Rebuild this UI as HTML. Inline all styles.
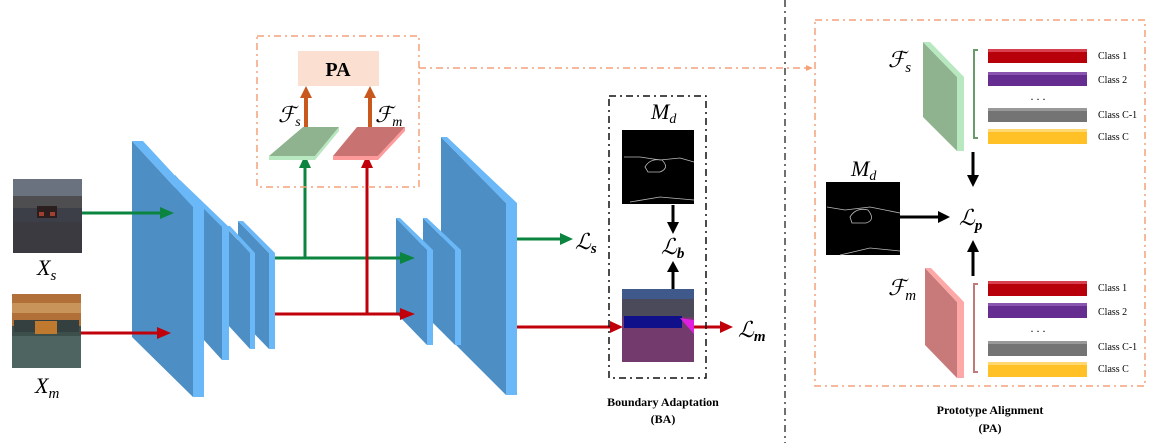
<!DOCTYPE html>
<html><head><meta charset="utf-8"><style>
html,body{margin:0;padding:0;background:#fff;}
svg{display:block;}
text{font-family:"Liberation Serif","DejaVu Serif",serif;}
.m{font-style:italic;font-size:22px;}
.cls{font-size:10px;}
</style></head><body>
<svg width="1160" height="443" viewBox="0 0 1160 443" xmlns="http://www.w3.org/2000/svg">
<defs>
<marker id="ag" markerWidth="8" markerHeight="8" refX="6" refY="4" orient="auto" markerUnits="userSpaceOnUse"><path d="M0,0 L14,4 L0,8z" fill="#0a843e" transform="scale(0.6,1)"/></marker>
</defs>

<!-- input images -->
<g>
<rect x="13" y="179" width="69" height="74" fill="#3c3e48"/>
<rect x="13" y="179" width="69" height="22" fill="#6a7280"/>
<rect x="13" y="196" width="69" height="12" fill="#4e4e50"/>
<rect x="37" y="206" width="20" height="12" fill="#2a1e1e"/>
<rect x="39" y="212" width="5" height="4" fill="#a04030"/>
<rect x="50" y="212" width="5" height="4" fill="#a04030"/>
<rect x="13" y="222" width="69" height="31" fill="#3a3a40"/>
</g>
<text class="m" x="37" y="275">X<tspan font-size="15" dy="5">s</tspan></text>
<g>
<rect x="12" y="294" width="69" height="74" fill="#3d4f4a"/>
<rect x="12" y="294" width="69" height="32" fill="#b07038"/>
<rect x="12" y="303" width="69" height="10" fill="#c8945a"/>
<rect x="14" y="320" width="65" height="12" fill="#344040"/>
<rect x="35" y="321" width="22" height="13" fill="#c07a30"/>
<rect x="12" y="336" width="69" height="32" fill="#4e6460"/>
</g>
<text class="m" x="35" y="393">X<tspan font-size="15" dy="5">m</tspan></text>

<!-- encoder layers (back to front) -->
<g>
<polygon points="238,221 269,253 269,349 238,317" fill="#4d8fc4"/>
<polygon points="238,221 243,221 275,253 269,253" fill="#6ab8f8"/>
<rect x="269" y="253" width="6" height="96" fill="#6ab8f8"/>
<polygon points="205,205 250,253 250,349 205,300" fill="#4d8fc4"/>
<polygon points="225,226 230,226 255,253 250,253" fill="#6ab8f8"/>
<rect x="250" y="253" width="5" height="96" fill="#6ab8f8"/>
<polygon points="175,175 222,227 222,360 175,308" fill="#4d8fc4"/>
<polygon points="175,180 180,180 229,227 222,227" fill="#6ab8f8"/>
<rect x="222" y="227" width="7" height="133" fill="#6ab8f8"/>
<polygon points="132,141 193,207 193,397 132,337" fill="#4d8fc4"/>
<polygon points="132,141 143,141 204,207 193,207" fill="#6ab8f8"/>
<rect x="193" y="207" width="11" height="190" fill="#6ab8f8"/>
</g>
<!-- decoder layers -->
<g>
<polygon points="441,137 506,203 506,395 441,330" fill="#4d8fc4"/>
<polygon points="441,137 447,137 517,203 506,203" fill="#6ab8f8"/>
<rect x="506" y="203" width="11" height="192" fill="#6ab8f8"/>
<polygon points="423,218 455,250 455,345 423,313" fill="#4d8fc4"/>
<polygon points="423,218 427,218 461,250 455,250" fill="#6ab8f8"/>
<rect x="455" y="250" width="6" height="95" fill="#6ab8f8"/>
<polygon points="396,218 427,250 427,345 396,313" fill="#4d8fc4"/>
<polygon points="396,218 400,218 433,250 427,250" fill="#6ab8f8"/>
<rect x="427" y="250" width="6" height="95" fill="#6ab8f8"/>
</g>

<!-- arrows -->
<g stroke-width="3" fill="none">
<line x1="82" y1="213" x2="160" y2="213" stroke="#0a843e"/>
<line x1="81" y1="333" x2="157" y2="333" stroke="#c0000a"/>
<line x1="275" y1="258" x2="400" y2="258" stroke="#0a843e"/>
<line x1="305" y1="258" x2="305" y2="168" stroke="#0a843e"/>
<line x1="275" y1="314" x2="400" y2="314" stroke="#c0000a"/>
<line x1="367" y1="314" x2="367" y2="168" stroke="#c0000a"/>
<line x1="517" y1="239" x2="560" y2="239" stroke="#0a843e"/>
<line x1="517" y1="327" x2="610" y2="327" stroke="#c0000a"/>
<line x1="694" y1="327" x2="720" y2="327" stroke="#c0000a"/>
<line x1="306" y1="138" x2="306" y2="96" stroke="#c8581e" stroke-width="4"/>
<line x1="370" y1="138" x2="370" y2="96" stroke="#c8581e" stroke-width="4"/>
</g>
<g>
<polygon points="160,207 174,213 160,219" fill="#0a843e"/>
<polygon points="157,327 171,333 157,339" fill="#c0000a"/>
<polygon points="400,252 415,258 400,264" fill="#0a843e"/>
<polygon points="299,168 305,155 311,168" fill="#0a843e"/>
<polygon points="400,308 415,314 400,320" fill="#c0000a"/>
<polygon points="361,168 367,155 373,168" fill="#c0000a"/>
<polygon points="560,233 573,239 560,245" fill="#0a843e"/>
<polygon points="610,321 623,327 610,333" fill="#c0000a"/>
<polygon points="720,321 733,327 720,333" fill="#c0000a"/>
<polygon points="300,98 306,86 312,98" fill="#c8581e"/>
<polygon points="364,98 370,86 376,98" fill="#c8581e"/>
</g>

<!-- PA small box -->
<rect x="257" y="36" width="162" height="151" fill="none" stroke="#f4a27a" stroke-width="1.5" stroke-dasharray="7,4,2,4"/>
<rect x="298" y="51" width="81" height="35" fill="#fbe0d2"/>
<text x="338" y="76" font-size="20" font-weight="bold" text-anchor="middle">PA</text>
<g>
<polygon points="269,156 303,127 339,127 315,156" fill="#8fb38f"/>
<polygon points="269,156 315,156 339,127 339,131 315,160 269,160" fill="#b8e8c0"/>
<polygon points="333,156 357,127 405,127 378,156" fill="#c87272"/>
<polygon points="333,156 378,156 405,127 405,131 378,160 333,160" fill="#ff9a9a"/>
</g>
<text class="m" x="278" y="122" font-size="20">ℱ<tspan font-size="14" dy="4">s</tspan></text>
<text class="m" x="375" y="122" font-size="20">ℱ<tspan font-size="14" dy="4">m</tspan></text>
<line x1="419" y1="68" x2="806" y2="68" stroke="#f4a27a" stroke-width="1.5" stroke-dasharray="7,4,2,4"/>
<polygon points="806,65 813,68 806,71" fill="#f4a27a"/>

<text class="m" x="575" y="249">ℒ<tspan font-size="15" dy="4" font-weight="bold">s</tspan></text>
<text class="m" x="738" y="337">ℒ<tspan font-size="15" dy="4" font-weight="bold">m</tspan></text>

<!-- BA box -->
<rect x="609" y="96" width="97" height="282" fill="none" stroke="#111" stroke-width="1.5" stroke-dasharray="7,4,2,4"/>
<text class="m" x="651" y="119" font-size="20">M<tspan font-size="14" dy="4">d</tspan></text>
<g>
<rect x="622" y="130" width="72" height="74" fill="#000"/>
<path d="M624,157 L640,157 L660,160 L680,158 L694,162 M645,167 Q650,158 662,160 Q670,168 660,172 L648,172z M630,202 L660,197 L694,200" stroke="#bbb" stroke-width="0.8" fill="none"/>
</g>
<line x1="673" y1="205" x2="673" y2="222" stroke="#000" stroke-width="3"/>
<polygon points="667,222 673,234 679,222" fill="#000"/>
<text class="m" x="661" y="254">ℒ<tspan font-size="15" dy="4" font-weight="bold">b</tspan></text>
<line x1="673" y1="289" x2="673" y2="272" stroke="#000" stroke-width="3"/>
<polygon points="667,272 673,261 679,272" fill="#000"/>
<g>
<rect x="622" y="289" width="72" height="73" fill="#733a6e"/>
<rect x="622" y="289" width="72" height="10" fill="#3f5a8a"/>
<rect x="622" y="299" width="72" height="18" fill="#4a4a5a"/>
<rect x="624" y="316" width="58" height="12" fill="#10108a"/>
<polygon points="680,318 694,320 694,334" fill="#e020e0"/>
</g>
<text x="663" y="406" font-size="12" font-weight="bold" text-anchor="middle">Boundary Adaptation</text>
<text x="663" y="423" font-size="12" font-weight="bold" text-anchor="middle">(BA)</text>

<line x1="785" y1="0" x2="785" y2="443" stroke="#111" stroke-width="1.2" stroke-dasharray="7,4,2,4"/>

<!-- right PA -->
<rect x="815" y="20" width="330" height="366" fill="none" stroke="#f4a27a" stroke-width="1.5" stroke-dasharray="7,4,2,4"/>
<g>
<polygon points="923,42 957,77 957,151 923,117" fill="#8fb38f"/>
<polygon points="923,42 930,42 964,77 957,77" fill="#b8e8c0"/>
<rect x="957" y="77" width="7" height="74" fill="#b8e8c0"/>
</g>
<text class="m" x="888" y="67">ℱ<tspan font-size="15" dy="5">s</tspan></text>
<path d="M978,50 L974,50 L974,138 L978,138" stroke="#6a9a6a" stroke-width="2" fill="none"/>
<g>
<polygon points="925,268 957,302 957,378 925,345" fill="#c87a7a"/>
<polygon points="925,268 931,268 964,302 957,302" fill="#ffa8a8"/>
<rect x="957" y="302" width="7" height="76" fill="#ffa8a8"/>
</g>
<text class="m" x="888" y="295">ℱ<tspan font-size="15" dy="5">m</tspan></text>
<path d="M978,284 L974,284 L974,372 L978,372" stroke="#c07a7a" stroke-width="2" fill="none"/>

<g>
<rect x="988" y="49" width="99" height="14" fill="#b8000a"/><rect x="988" y="49" width="99" height="3" fill="#d84050"/>
<rect x="988" y="72" width="99" height="14" fill="#652d90"/><rect x="988" y="72" width="99" height="3" fill="#8a55b0"/>
<rect x="988" y="108" width="99" height="14" fill="#747474"/><rect x="988" y="108" width="99" height="3" fill="#999"/>
<rect x="988" y="129" width="99" height="15" fill="#ffc125"/><rect x="988" y="129" width="99" height="3" fill="#ffd870"/>
<text x="1038" y="100" font-size="12" text-anchor="middle">. . .</text>
</g>
<g>
<rect x="988" y="281" width="99" height="15" fill="#b8000a"/><rect x="988" y="281" width="99" height="3" fill="#d84050"/>
<rect x="988" y="303" width="99" height="15" fill="#652d90"/><rect x="988" y="303" width="99" height="3" fill="#8a55b0"/>
<rect x="988" y="341" width="99" height="15" fill="#747474"/><rect x="988" y="341" width="99" height="3" fill="#999"/>
<rect x="988" y="362" width="99" height="15" fill="#ffc125"/><rect x="988" y="362" width="99" height="3" fill="#ffd870"/>
<text x="1038" y="332" font-size="12" text-anchor="middle">. . .</text>
</g>
<g class="cls">
<text x="1098" y="59" class="cls">Class 1</text>
<text x="1098" y="83" class="cls">Class 2</text>
<text x="1098" y="118" class="cls">Class C-1</text>
<text x="1098" y="140" class="cls">Class C</text>
<text x="1098" y="291" class="cls">Class 1</text>
<text x="1098" y="315" class="cls">Class 2</text>
<text x="1098" y="350" class="cls">Class C-1</text>
<text x="1098" y="372" class="cls">Class C</text>
</g>

<text class="m" x="851" y="176" font-size="20">M<tspan font-size="14" dy="4">d</tspan></text>
<g>
<rect x="826" y="182" width="74" height="73" fill="#000"/>
<path d="M827,207 L845,210 L870,207 L900,213 M850,217 Q856,207 868,210 Q876,220 866,223 L852,223z M840,255 L870,248 L900,251" stroke="#bbb" stroke-width="0.8" fill="none"/>
</g>
<line x1="900" y1="217" x2="938" y2="217" stroke="#000" stroke-width="3"/>
<polygon points="938,211 950,217 938,223" fill="#000"/>
<line x1="973" y1="152" x2="973" y2="175" stroke="#000" stroke-width="3"/>
<polygon points="967,175 973,187 979,175" fill="#000"/>
<line x1="973" y1="276" x2="973" y2="252" stroke="#000" stroke-width="3"/>
<polygon points="967,252 973,240 979,252" fill="#000"/>
<text class="m" x="959" y="225">ℒ<tspan font-size="15" dy="5" font-weight="bold">p</tspan></text>

<text x="990" y="414" font-size="12" font-weight="bold" text-anchor="middle">Prototype Alignment</text>
<text x="990" y="432" font-size="12" font-weight="bold" text-anchor="middle">(PA)</text>
</svg>
</body></html>
